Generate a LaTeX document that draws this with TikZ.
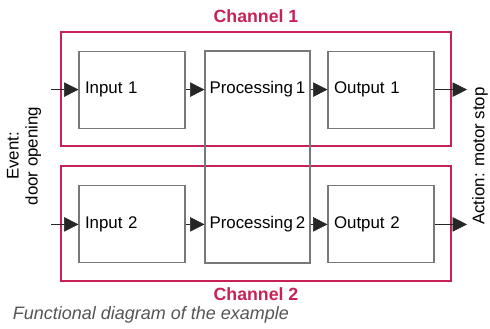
\documentclass[tikz,border=0pt]{standalone}
\usepackage{fontspec}
\setmainfont{Liberation Sans}
\usetikzlibrary{arrows.meta,positioning,calc}
\definecolor{chancol}{RGB}{200,33,85}
\definecolor{boxcol}{RGB}{120,120,120}
\definecolor{capcol}{RGB}{85,85,85}
\tikzset{>={Triangle[length=3.6mm,width=3.6mm]}}
\tikzset{
    block/.style={draw=boxcol,line width=0.75pt,minimum height=1.925cm,
        text width=2.35cm,inner xsep=0.15cm,align=left},
    chanbox/.style={draw=chancol,line width=0.75pt},
    chanlabel/.style={text=chancol,font=\fontsize{12.6}{14}\selectfont\bfseries},
    sidelabel/.style={rotate=90,align=center,font=\fontsize{12}{13.5}\selectfont}
}

\begin{document}
\begin{tikzpicture}[font=\fontsize{12}{14}\selectfont]
        \useasboundingbox (0,0) rectangle (12.25,8.2);

        % channels
        \draw [chanbox] (1.525,4.55) rectangle (11.275,7.4);
        \draw [chanbox] (1.525,1.175) rectangle (11.275,4.05);
        \node [chanlabel] (ch1) at (6.4,7.8) {Channel 1};
        \node [chanlabel] (ch2) at (6.4,0.85) {Channel 2};

        % nodes
        \node [block] (in1) at (3.3,5.96) {Input 1};
        \node [block] (in2) at (3.3,2.59) {Input 2};
        \node [block] (out1) at (9.525,5.96) {Output 1};
        \node [block] (out2) at (9.525,2.59) {Output 2};
        \node [draw=boxcol,line width=0.75pt,minimum width=2.625cm,minimum height=5.3cm,inner sep=0pt] (proc) at (6.4375,4.275) {};
        \node [right=0.12cm of proc.west |- in1.east,inner sep=0pt] (p1) {Processing\,1};
        \node [right=0.12cm of proc.west |- in2.east,inner sep=0pt] (p2) {Processing\,2};

        \coordinate (ev1) at (1.275,5.96);
        \coordinate (ev2) at (1.275,2.59);
        \coordinate (act1) at (11.675,5.96);
        \coordinate (act2) at (11.675,2.59);

        \node [sidelabel] (event) at (0.6,4.3) {Event:\\door opening};
        \node [sidelabel] (action) at (12.0,4.3) {Action: motor stop};

        % arrows
        \draw [->,draw=black!85] (ev1) -- (in1.west);
        \draw [->,draw=black!85] (ev2) -- (in2.west);
        \draw [->,draw=black!85] (in1.east) -- (in1.east -| proc.west);
        \draw [->,draw=black!85] (in2.east) -- (in2.east -| proc.west);
        \draw [->,draw=black!85] (out1.west -| proc.east) -- (out1.west);
        \draw [->,draw=black!85] (out2.west -| proc.east) -- (out2.west);
        \draw [->,draw=black!85] (out1.east) -- (act1);
        \draw [->,draw=black!85] (out2.east) -- (act2);

        % caption
        \node [anchor=west,text=capcol,font=\fontsize{12.8}{14}\selectfont\itshape] (cap) at (0.2,0.33) {Functional diagram of the example};

    \end{tikzpicture}
\end{document}
